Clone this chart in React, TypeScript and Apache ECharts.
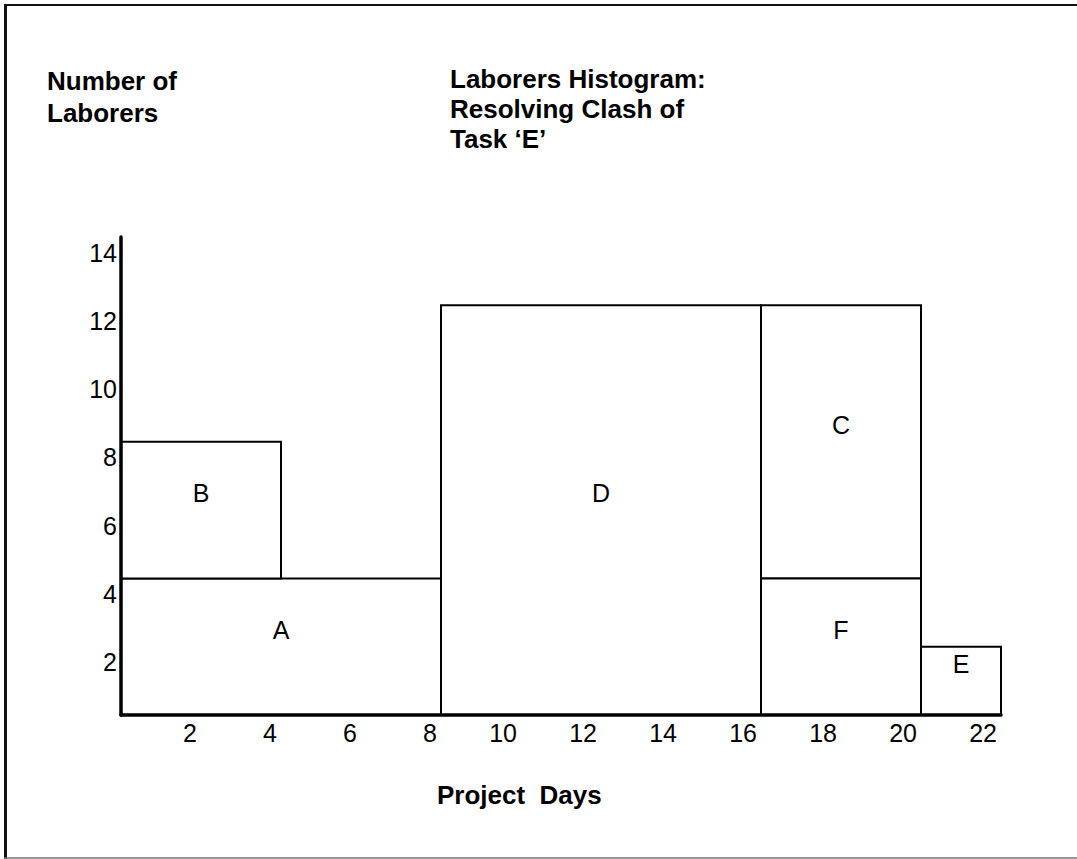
import React, { useEffect, useRef } from "react";
import * as echarts from "echarts";

// Tasks of the laborers histogram
const tasks = ["A", "B", "D", "C", "F", "E"];
const startDays = [0, 0, 8, 16, 16, 20];
const endDays = [8, 4, 16, 20, 20, 22];
const baseLaborers = [0, 4, 0, 4, 0, 0];
const laborers = [4, 4, 12, 8, 4, 2];

const xTickLabels = ["2", "4", "6", "8", "10", "12", "14", "16", "18", "20", "22"];
const yTickLabels = ["2", "4", "6", "8", "10", "12", "14"];

const FONT = "'Liberation Sans', Arial, Helvetica, sans-serif";

export default function App() {
  const ref = useRef<HTMLDivElement>(null);

  useEffect(() => {
    if (!ref.current) return;
    const chart = echarts.init(ref.current, undefined, { renderer: "svg" });

    const data = tasks.map((t, i) => [
      startDays[i],
      endDays[i],
      baseLaborers[i],
      baseLaborers[i] + laborers[i],
    ]);

    chart.setOption({
      animation: false,
      backgroundColor: "#ffffff",
      textStyle: { fontFamily: FONT },
      title: [
        {
          text: "Number of\nLaborers",
          left: 47,
          top: 65,
          padding: 0,
          textStyle: { fontFamily: FONT, fontSize: 26, fontWeight: "bold", color: "#000", lineHeight: 32 },
        },
        {
          text: "Laborers Histogram:\nResolving Clash of\nTask \u2018E\u2019",
          left: 450,
          top: 64,
          padding: 0,
          textStyle: { fontFamily: FONT, fontSize: 26, fontWeight: "bold", color: "#000", lineHeight: 30 },
        },
        {
          text: "Project  Days",
          left: 437,
          top: 782,
          padding: 0,
          textStyle: { fontFamily: FONT, fontSize: 26, fontWeight: "bold", color: "#000", lineHeight: 26 },
        },
      ],
      graphic: [
        { type: "line", shape: { x1: 4, y1: 5, x2: 1077, y2: 5 }, style: { stroke: "#111", lineWidth: 2 } },
        { type: "line", shape: { x1: 5.5, y1: 4, x2: 5.5, y2: 859 }, style: { stroke: "#111", lineWidth: 3 } },
        { type: "line", shape: { x1: 4, y1: 858, x2: 1077, y2: 858 }, style: { stroke: "#777", lineWidth: 1.5 } },
      ],
      grid: { left: 121, right: 76, top: 237, bottom: 144 },
      xAxis: {
        type: "value",
        min: 0,
        max: 22,
        interval: 2,
        z: 5,
        axisLine: { show: true, lineStyle: { color: "#000", width: 3.5 } },
        axisTick: { show: false },
        splitLine: { show: false },
        axisLabel: {
          formatter: (v: number) => (xTickLabels.includes(String(v)) ? String(v) : ""),
          color: "#000",
          fontFamily: FONT,
          fontSize: 25,
          align: "right",
          padding: [0, 4, 0, 0],
          margin: 5,
        },
      },
      yAxis: {
        type: "value",
        min: 0,
        max: 14,
        interval: 2,
        z: 5,
        axisLine: { show: true, lineStyle: { color: "#000", width: 3.5 } },
        axisTick: { show: false },
        splitLine: { show: false },
        axisLabel: {
          formatter: (v: number) => (yTickLabels.includes(String(v)) ? String(v) : ""),
          color: "#000",
          fontFamily: FONT,
          fontSize: 25,
          verticalAlign: "top",
          padding: [3, 0, 0, 0],
          margin: 4,
        },
      },
      series: [
        {
          type: "custom",
          data,
          z: 2,
          renderItem: (params: any, api: any) => {
            const x0 = api.value(0);
            const x1 = api.value(1);
            const y0 = api.value(2);
            const y1 = api.value(3);
            const p0 = api.coord([x0, y0]);
            const p1 = api.coord([x1, y1]);
            return {
              type: "rect",
              shape: {
                x: p0[0],
                y: p1[1],
                width: p1[0] - p0[0],
                height: p0[1] - p1[1],
              },
              style: { fill: "#ffffff", stroke: "#000", lineWidth: 2 },
              textContent: {
                style: {
                  text: tasks[params.dataIndex],
                  fontFamily: FONT,
                  fontSize: 25,
                  fill: "#000",
                },
              },
              textConfig: { position: "inside", offset: [0, -17] },
            };
          },
        },
      ],
    });

    return () => chart.dispose();
  }, []);

  return (
    <div
      ref={ref}
      style={{ position: "fixed", left: 0, top: 0, width: 1077, height: 859, background: "#fff" }}
    />
  );
}
